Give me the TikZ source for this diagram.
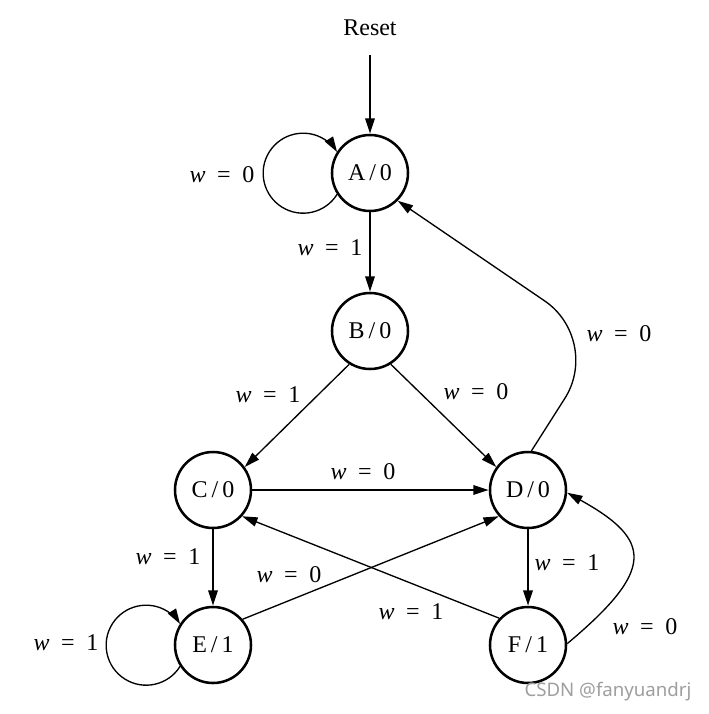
\documentclass[tikz,border=0pt]{standalone}
\usepackage{fontspec}
\setmainfont{Liberation Serif}
\newfontfamily\wmfont{Noto Sans}
\usetikzlibrary{arrows.meta}
\newcommand\wl[1]{\textit{w}\hspace{0.48em}=\hspace{0.48em}#1}
\begin{document}
\begin{tikzpicture}[x=0.75pt,y=0.75pt,
  st/.style={circle,draw,line width=1.9pt,minimum size=57pt,inner sep=0pt,font=\fontsize{18}{21}\selectfont},
  lbl/.style={inner sep=0pt,font=\fontsize{18}{21}\selectfont},
  tip/.style={-{Triangle[length=11.5pt,width=7pt]}},
  heavy/.style={tip,line width=1.5pt},
  light/.style={tip,line width=1pt}]
\useasboundingbox (0,0) rectangle (709,-714);
% states
\node[st] (A) at (370,-173) {A\,/\,0};
\node[st] (B) at (370,-331) {B\,/\,0};
\node[st] (C) at (213,-490) {C\,/\,0};
\node[st] (D) at (528,-490) {D\,/\,0};
\node[st] (E) at (213,-645) {E\,/\,1};
\node[st] (F) at (528,-645) {F\,/\,1};
% reset
\node[lbl] (reset) at (370,-28) {Reset};
\coordinate (r0) at (370,-55);
\draw[heavy] (r0) -- (A);
% self loops
\draw[light] (A.213) arc[start angle=-32, end angle=-328, radius=40];
\draw[light] (E.213) arc[start angle=-32, end angle=-328, radius=40];
% transitions
\draw[heavy] (A) -- (B);
\draw[light] (B.238) -- (C.36);
\draw[light] (B.302) -- (D.144);
\draw[heavy] (C) -- (D);
\draw[heavy] (C) -- (E);
\draw[heavy] (D) -- (F);
\draw[light] (E.41) -- (D.222);
\draw[light] (F.137) -- (C.318);
\coordinate (bend) at (602,-340);
\draw[light, rounded corners=52pt] (D.85) -- (bend) -- (A.315);
\draw[light] (F.2) to[out=40,in=-29,out distance=86pt,in distance=73.5pt] (D.-4);
% labels
\node[lbl] (lA) at (222,-175) {\wl{0}};
\node[lbl] (lAB) at (330,-248) {\wl{1}};
\node[lbl] (lBC) at (268,-395) {\wl{1}};
\node[lbl] (lBD) at (476,-392) {\wl{0}};
\node[lbl] (lCD) at (363,-472) {\wl{0}};
\node[lbl] (lDA) at (619,-334) {\wl{0}};
\node[lbl] (lCE) at (168,-557) {\wl{1}};
\node[lbl] (lED) at (289,-575) {\wl{0}};
\node[lbl] (lDF) at (567,-563) {\wl{1}};
\node[lbl] (lFC) at (411,-612) {\wl{1}};
\node[lbl] (lE) at (66,-643) {\wl{1}};
\node[lbl] (lFD) at (645,-627) {\wl{0}};
% watermark
\node[inner sep=0pt,text=black!38,font=\wmfont\fontsize{14}{16}\selectfont] (wm) at (608,-692) {CSDN @fanyuandrj};
\end{tikzpicture}
\end{document}
